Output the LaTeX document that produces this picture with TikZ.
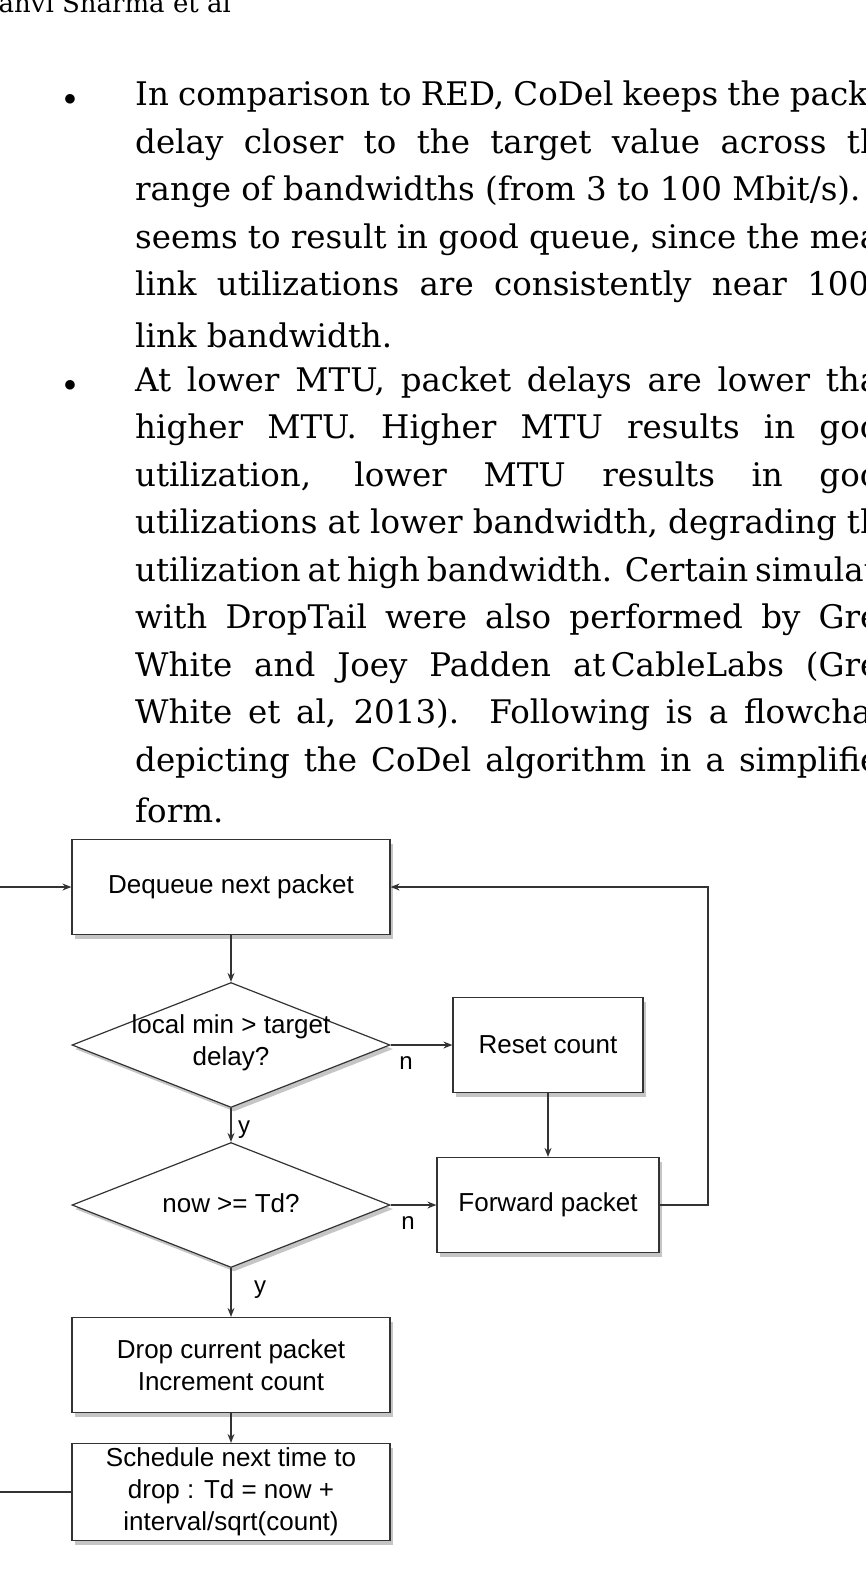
\documentclass[tikz,border=0pt]{standalone}
\usepackage{fontspec}
\setmainfont{DejaVu Serif}
\newfontfamily\flowfont{Liberation Sans}
\usetikzlibrary{shapes.geometric,shadows,arrows.meta}
\begin{document}
\begin{tikzpicture}[x=1pt,y=-1pt,
  bodyline/.style={anchor=west,inner sep=0pt,font=\fontsize{32.5}{38}\selectfont},
  boxnode/.style={draw=black!80,fill=white,line width=1.2pt,font=\flowfont\fontsize{26}{32}\selectfont,align=center,
     drop shadow={shadow xshift=3pt,shadow yshift=-4pt,fill=black!45}},
  dia/.style={boxnode,diamond,inner sep=0pt,minimum width=318pt,minimum height=125pt},
  diatext/.style={font=\flowfont\fontsize{26}{32}\selectfont,align=center},
  conn/.style={draw=black!80,line width=1.2pt,-{Stealth[length=9pt,width=7pt]}},
  plain/.style={draw=black!80,line width=1.2pt},
  lab/.style={font=\flowfont\fontsize{24}{28}\selectfont}]
\useasboundingbox (0,0) rectangle (866,1592);
\clip (0,0) rectangle (866,1592);
\fill[white] (0,0) rectangle (866,1592);
\node[anchor=west,inner sep=0pt,font=\fontsize{26}{30}\selectfont] (hdr) at (-12,5) {Janvi Sharma et al};
\node (b1) at (70,100) {\fontsize{26}{28}\selectfont$\bullet$};
\node (b2) at (70,386) {\fontsize{26}{28}\selectfont$\bullet$};
\def\W{765pt}
\node[bodyline] (l1) at (135,97) {\makebox[\W][s]{In comparison to RED, CoDel keeps the packet}};
\node[bodyline] (l2) at (135,145) {\makebox[\W][s]{delay closer to the target value across the}};
\node[bodyline] (l3) at (135,192) {\makebox[\W][s]{range of bandwidths (from 3 to 100 Mbit/s). It}};
\node[bodyline] (l4) at (135,240) {\makebox[\W][s]{seems to result in good queue, since the mean}};
\node[bodyline] (l5) at (135,287) {\makebox[\W][s]{link utilizations are consistently near 100\%}};
\node[bodyline] (l6) at (135,335) {link bandwidth.};
\node[bodyline] (l7) at (135,383) {\makebox[\W][s]{At lower MTU, packet delays are lower than}};
\node[bodyline] (l8) at (135,430) {\makebox[\W][s]{higher MTU. Higher MTU results in good}};
\node[bodyline] (l9) at (135,478) {\makebox[\W][s]{utilization, lower MTU results in good}};
\node[bodyline] (l10) at (135,525) {\makebox[\W][s]{utilizations at lower bandwidth, degrading the}};
\node[bodyline] (l11) at (135,573) {\makebox[\W][s]{utilization at high bandwidth. Certain simulations}};
\node[bodyline] (l12) at (135,620) {\makebox[\W][s]{with DropTail were also performed by Greg}};
\node[bodyline] (l13) at (135,668) {\makebox[\W][s]{White and Joey Padden at\,CableLabs (Greg}};
\node[bodyline] (l14) at (135,715) {\makebox[\W][s]{White et al, 2013). Following is a flowchart}};
\node[bodyline] (l15) at (135,763) {\makebox[\W][s]{depicting the CoDel algorithm in a simplified}};
\node[bodyline] (l16) at (135,810) {form.};
% flowchart
\node[boxnode,minimum width=318pt,minimum height=95pt] (deq) at (231,887) {Dequeue next packet};
\node[dia] (d1) at (231,1045) {};
\node[diatext] (t1) at (231,1043) {local min > target\\delay?};
\node[boxnode,minimum width=190pt,minimum height=95pt] (reset) at (548,1045) {Reset count};
\node[dia] (d2) at (231,1205) {};
\node[diatext] (t2) at (231,1203) {now >= Td?};
\node[boxnode,minimum width=222pt,minimum height=95pt] (fwd) at (548,1205) {Forward packet};
\node[boxnode,minimum width=318pt,minimum height=95pt] (drop) at (231,1365) {Drop current packet\\Increment count};
\node[boxnode,minimum width=318pt,minimum height=97pt] (sched) at (231,1492) {Schedule next time to\\drop : Td = now +\\interval/sqrt(count)};
\coordinate (inl) at (0,887);
\coordinate (outl) at (0,1492);
\coordinate (c1) at (708,1205);
\coordinate (c2) at (708,887);
\draw[conn] (inl) -- (deq.west);
\draw[conn] (deq.south) -- (d1.north);
\draw[conn] (d1.east) -- (reset.west);
\draw[conn] (d1.south) -- (d2.north);
\draw[conn] (reset.south) -- (fwd.north);
\draw[conn] (d2.east) -- (fwd.west);
\draw[conn] (d2.south) -- (drop.north);
\draw[conn] (drop.south) -- (sched.north);
\draw[conn] (fwd.east) -- (c1) -- (c2) -- (deq.east);
\draw[plain] (sched.west) -- (outl);
\node[lab] (n1) at (406,1063) {n};
\node[lab] (y1) at (244,1130) {y};
\node[lab] (n2) at (408,1223) {n};
\node[lab] (y2) at (260,1290) {y};
\end{tikzpicture}
\end{document}
